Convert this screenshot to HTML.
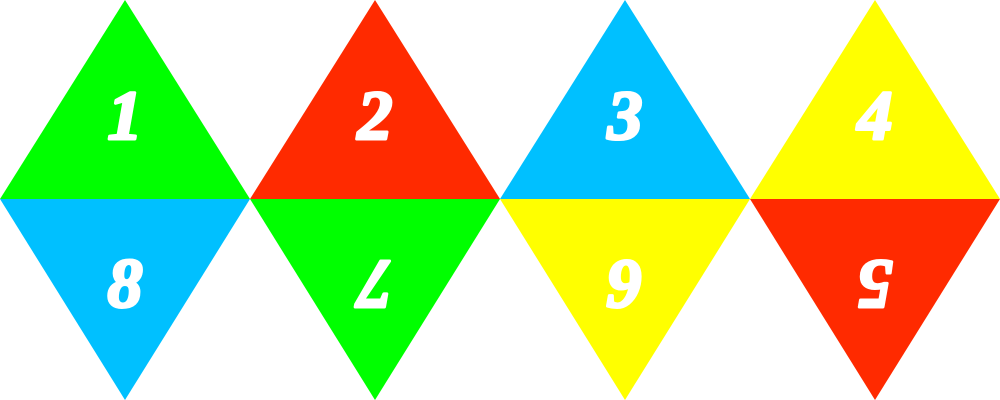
<!DOCTYPE html>
<html><head><meta charset="utf-8"><style>
html,body{margin:0;padding:0;background:#fff;width:1000px;height:400px;overflow:hidden}
text{font-family:"Liberation Serif",serif;font-weight:bold;font-style:italic;font-size:70px;fill:#fff;stroke:#fff;stroke-width:3px;stroke-linejoin:round}
</style></head><body>
<svg width="1000" height="400" viewBox="0 0 1000 400">
<g>
<polygon points="125,0 250,199 0,199" fill="#00ff00"/>
<polygon points="375,0 500,199 250,199" fill="#ff2a00"/>
<polygon points="625,0 750,199 500,199" fill="#00c0ff"/>
<polygon points="875,0 1000,199 750,199" fill="#ffff00"/>
</g>
<g>
<polygon points="0,199 250,199 125,400" fill="#00c0ff"/>
<polygon points="250,199 500,199 375,400" fill="#00ff00"/>
<polygon points="500,199 750,199 625,400" fill="#ffff00"/>
<polygon points="750,199 1000,199 875,400" fill="#ff2a00"/>
</g>
<text x="125" y="139" text-anchor="middle">1</text>
<text x="375" y="139" text-anchor="middle">2</text>
<text x="625" y="139" text-anchor="middle">3</text>
<text x="875" y="139" text-anchor="middle">4</text>
<text x="125" y="307" text-anchor="middle">8</text>
<text x="375" y="307" text-anchor="middle" transform="rotate(180 375 284)">7</text>
<text x="625" y="307" text-anchor="middle" transform="rotate(180 625 284)">6</text>
<text x="875" y="307" text-anchor="middle" transform="rotate(180 875 284)">5</text>
</svg>
</body></html>
